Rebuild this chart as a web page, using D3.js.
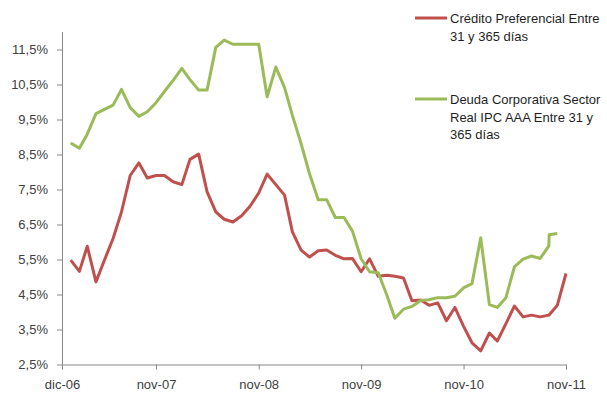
<!DOCTYPE html>
<html>
<head>
<meta charset="utf-8">
<script src="https://cdn.jsdelivr.net/npm/d3@7"></script>
<style>
  html, body { margin: 0; padding: 0; background: #ffffff; }
  svg { display: block; }
  .axis text { font-family: "Liberation Sans", Arial, sans-serif; font-size: 13px; fill: #404040; }
  .legend text { font-family: "Liberation Sans", Arial, sans-serif; font-size: 13px; fill: #1f1f1f; }
</style>
</head>
<body>
<svg id="chart" width="607" height="394"></svg>
<script>
// Monthly observations, Jan 2007 through Nov 2011
const months = d3.timeMonth.range(new Date(2007, 0, 1), new Date(2011, 11, 1));

// Crédito Preferencial Entre 31 y 365 días (%)
const credito = [
  5.48, 5.16, 5.88, 4.86, 5.48, 6.10, 6.86, 7.90, 8.26, 7.83, 7.90, 7.90,
  7.72, 7.64, 8.36, 8.51, 7.43, 6.86, 6.65, 6.57, 6.75, 7.02, 7.40, 7.94,
  7.64, 7.34, 6.29, 5.77, 5.57, 5.75, 5.77, 5.62, 5.52, 5.53, 5.15, 5.52,
  5.02, 5.05, 5.02, 4.97, 4.32, 4.34, 4.19, 4.26, 3.75, 4.13, 3.59, 3.12,
  2.89, 3.40, 3.17, 3.67, 4.17, 3.86, 3.91, 3.86, 3.91, 4.19, 5.10
];

// Deuda Corporativa Sector Real IPC AAA Entre 31 y 365 días (%)
const deudaFechas = [
  "2007-01-01","2007-02-01","2007-03-01","2007-04-01","2007-05-01","2007-06-01",
  "2007-07-01","2007-08-01","2007-09-01","2007-10-01","2007-11-01","2007-12-01",
  "2008-01-01","2008-02-01","2008-03-01","2008-04-01","2008-05-01","2008-06-01",
  "2008-07-01","2008-08-01","2008-09-01","2008-10-01","2008-11-01","2008-12-01",
  "2009-01-01","2009-02-01","2009-03-01","2009-04-01","2009-05-01","2009-06-01",
  "2009-07-01","2009-08-01","2009-09-01","2009-10-01","2009-11-01","2009-12-01",
  "2010-01-01","2010-02-01","2010-03-01","2010-04-01","2010-05-01","2010-06-01",
  "2010-07-01","2010-08-01","2010-09-01","2010-10-01","2010-11-01","2010-12-01",
  "2011-01-01","2011-02-01","2011-03-01","2011-04-01","2011-05-01","2011-06-01",
  "2011-07-01","2011-08-01","2011-09-01","2011-09-02","2011-10-01"
];
const deuda = [
  8.83, 8.68, 9.08, 9.67, 9.79, 9.91, 10.36, 9.84, 9.59, 9.72, 9.98, 10.30,
  10.62, 10.96, 10.64, 10.34, 10.34, 11.56, 11.77, 11.65, 11.65, 11.65, 11.65, 10.15,
  11.00, 10.41, 9.62, 8.81, 7.95, 7.21, 7.21, 6.70, 6.70, 6.31, 5.52, 5.15,
  5.12, 4.47, 3.82, 4.08, 4.16, 4.33, 4.35, 4.41, 4.41, 4.45, 4.69, 4.81,
  6.12, 4.21, 4.13, 4.41, 5.29, 5.51, 5.60, 5.53, 5.89, 6.21, 6.24
];

// Axis ticks
const yTicks = [2.5, 3.5, 4.5, 5.5, 6.5, 7.5, 8.5, 9.5, 10.5, 11.5];
const xTickDates = ["2006-12-01", "2007-11-01", "2008-11-01", "2009-11-01", "2010-11-01", "2011-11-01"];
const xTickLabels = ["dic-06", "nov-07", "nov-08", "nov-09", "nov-10", "nov-11"];

const parse = d3.timeParse("%Y-%m-%d");

const series = [
  { name: ["Crédito Preferencial Entre", "31 y 365 días"], color: "#C0504D",
    points: months.map((d, i) => ({ date: d, value: credito[i] })) },
  { name: ["Deuda Corporativa Sector", "Real IPC AAA Entre 31 y", "365 días"], color: "#9BBB59",
    points: deudaFechas.map((d, i) => ({ date: parse(d), value: deuda[i] })) }
];

const svg = d3.select("#chart");

const x = d3.scaleTime()
  .domain([parse("2006-12-01"), parse("2011-11-01")])
  .range([62, 566]);
const y = d3.scaleLinear()
  .domain([2.5, 12])
  .range([364.5, 32]);

const pct = d => d3.format(".1f")(d).replace(".", ",") + "%";

// Y axis
const yAxis = svg.append("g")
  .attr("class", "axis")
  .attr("transform", "translate(62,0)")
  .call(d3.axisLeft(y).tickValues(yTicks).tickFormat(pct).tickSizeOuter(0).tickSize(5).tickPadding(9));
yAxis.select(".domain").attr("stroke", "#888").attr("d", `M0.5,${y(12)}V${y(2.5)}`);
yAxis.selectAll(".tick line").attr("stroke", "#888");

// X axis
const xAxis = svg.append("g")
  .attr("class", "axis")
  .attr("transform", `translate(0,${y(2.5)})`)
  .call(d3.axisBottom(x)
    .tickValues(xTickDates.map(parse))
    .tickFormat((d, i) => xTickLabels[i])
    .tickSizeOuter(0).tickSize(5).tickPadding(10));
xAxis.select(".domain").attr("stroke", "#888");
xAxis.selectAll(".tick line").attr("stroke", "#888");

// Lines
const line = d3.line()
  .x(d => x(d.date))
  .y(d => y(d.value));

svg.selectAll("path.series")
  .data(series)
  .join("path")
  .attr("class", "series")
  .attr("fill", "none")
  .attr("stroke", d => d.color)
  .attr("stroke-width", 3)
  .attr("stroke-linejoin", "round")
  .attr("d", d => line(d.points));

// Legend
const legendPos = [{ x: 415, y: 18 }, { x: 415, y: 99 }];
const legend = svg.append("g").attr("class", "legend");
series.forEach((s, i) => {
  const g = legend.append("g").attr("transform", `translate(${legendPos[i].x},${legendPos[i].y})`);
  g.append("line")
    .attr("x1", 0).attr("x2", 32)
    .attr("y1", 0).attr("y2", 0)
    .attr("stroke", s.color).attr("stroke-width", 3);
  g.append("text")
    .attr("x", 35)
    .attr("y", 5)
    .selectAll("tspan")
    .data(s.name)
    .join("tspan")
    .attr("x", 35)
    .attr("dy", (d, j) => j === 0 ? 0 : 17.5)
    .text(d => d);
});
</script>
</body>
</html>
